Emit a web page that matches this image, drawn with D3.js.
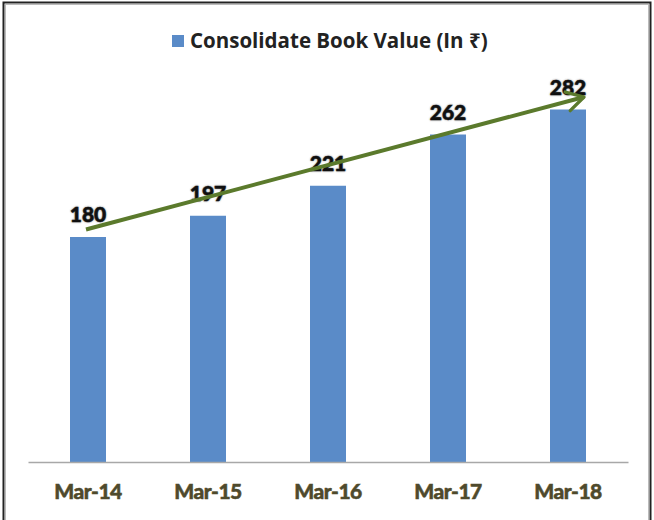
<!DOCTYPE html>
<html>
<head>
<meta charset="utf-8">
<script src="https://cdn.jsdelivr.net/npm/d3@7"></script>
<style>
  body { margin: 0; background: #fff; }
  svg { display: block; }
</style>
</head>
<body>
<script>
// Data
const categories = ["Mar-14", "Mar-15", "Mar-16", "Mar-17", "Mar-18"];
const bookValues = [180, 197, 221, 262, 282];
const seriesName = "Consolidate Book Value (In ₹)";
// trend arrow start / end values (on the value scale)
const trendValues = [186, 292];

// SVG area
const svgWidth = 654;
const svgHeight = 520;

const chartMargin = { top: 87, right: 26, bottom: 58, left: 28 };
const chartWidth = svgWidth - chartMargin.left - chartMargin.right;
const chartHeight = svgHeight - chartMargin.top - chartMargin.bottom;

const svg = d3.select("body")
  .append("svg")
  .attr("width", svgWidth)
  .attr("height", svgHeight);

// outer frame
svg.append("rect")
  .attr("x", 3.5).attr("y", 2.5)
  .attr("width", 647).attr("height", 530)
  .attr("fill", "none")
  .attr("stroke", "#222")
  .attr("stroke-width", 2);
svg.append("rect")
  .attr("x", 5.5).attr("y", 4.5)
  .attr("width", 643).attr("height", 530)
  .attr("fill", "none")
  .attr("stroke", "#bbb")
  .attr("stroke-width", 1);

const chartGroup = svg.append("g")
  .attr("transform", `translate(${chartMargin.left}, ${chartMargin.top})`);

const x = d3.scaleBand()
  .domain(categories)
  .range([0, chartWidth])
  .paddingInner(0.7)
  .paddingOuter(0.35);

const y = d3.scaleLinear()
  .domain([0, 300])
  .range([chartHeight, 0]);

// bars
chartGroup.selectAll(".bar")
  .data(bookValues)
  .enter()
  .append("rect")
  .attr("class", "bar")
  .attr("x", (d, i) => x(categories[i]))
  .attr("y", d => y(d))
  .attr("width", x.bandwidth())
  .attr("height", d => chartHeight - y(d))
  .attr("fill", "#5a8bc8");

// x axis
const xAxis = d3.axisBottom(x).tickSize(0).tickPadding(22);
const axisG = chartGroup.append("g")
  .attr("transform", `translate(0, ${chartHeight})`)
  .call(xAxis);
axisG.select(".domain").attr("stroke", "#a8a8a8").attr("stroke-width", 1.5);
axisG.selectAll("text")
  .attr("font-family", "Lato, 'Open Sans', sans-serif")
  .attr("font-weight", "900")
  .attr("font-size", "21px")
  .attr("fill", "#4f4a2c")
  .attr("stroke", "#4f4a2c")
  .attr("stroke-width", 0.5)
  .attr("letter-spacing", "-0.5px");

// value labels
chartGroup.selectAll(".label")
  .data(bookValues)
  .enter()
  .append("text")
  .attr("class", "label")
  .attr("x", (d, i) => x(categories[i]) + x.bandwidth() / 2)
  .attr("y", d => y(d) - 15)
  .attr("text-anchor", "middle")
  .attr("font-family", "Lato, 'Open Sans', sans-serif")
  .attr("font-weight", "900")
  .attr("font-size", "21px")
  .attr("fill", "#111")
  .attr("stroke", "#111")
  .attr("stroke-width", 0.5)
  .style("text-shadow", "0 0 2px rgba(0,0,0,0.4)")
  .text(d => d);

// trend arrow
const defs = svg.append("defs");
defs.append("marker")
  .attr("id", "arrowhead")
  .attr("viewBox", "0 0 10 10")
  .attr("refX", 9).attr("refY", 5)
  .attr("markerWidth", 6).attr("markerHeight", 6)
  .attr("markerUnits", "strokeWidth")
  .attr("orient", "auto")
  .append("path")
  .attr("d", "M2,1 L9,5 L2,9")
  .attr("fill", "none")
  .attr("stroke", "#5b7a2c")
  .attr("stroke-width", 1.4)
  .attr("stroke-linecap", "round")
  .attr("stroke-linejoin", "round");

const x0 = x(categories[0]) + x.bandwidth() / 2 - 2;
const x1 = x(categories[categories.length - 1]) + x.bandwidth() / 2 + 16;
chartGroup.append("line")
  .attr("x1", x0).attr("y1", y(trendValues[0]))
  .attr("x2", x1).attr("y2", y(trendValues[1]))
  .attr("stroke", "#5b7a2c")
  .attr("stroke-width", 4)
  .attr("marker-end", "url(#arrowhead)");

// legend
const legend = svg.append("g").attr("transform", "translate(172, 35)");
legend.append("rect")
  .attr("width", 12).attr("height", 12)
  .attr("fill", "#5a8bc8");
legend.append("text")
  .attr("x", 18).attr("y", 13)
  .attr("font-family", "'Open Sans', 'Noto Sans', sans-serif")
  .attr("font-weight", "700")
  .attr("font-size", "20.5px")
  .attr("fill", "#222")
  .text(seriesName);
</script>
</body>
</html>
